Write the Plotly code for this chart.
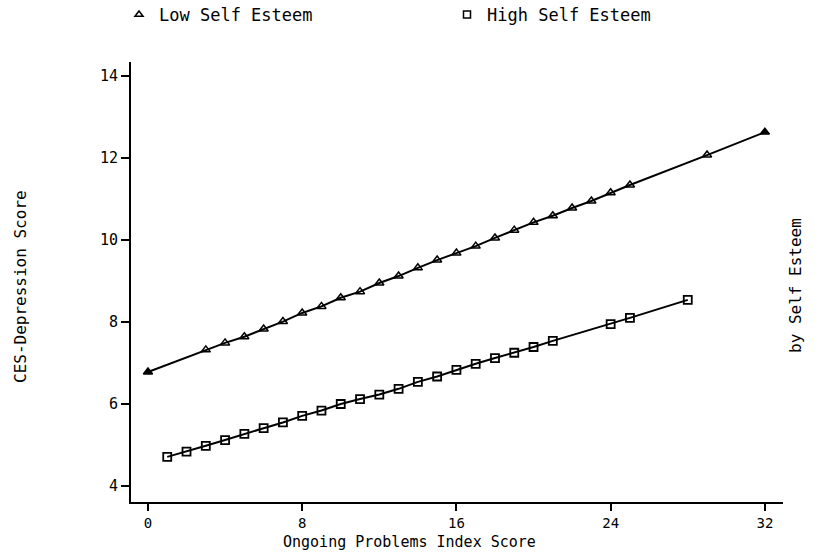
import plotly.graph_objects as go

# Data
low_x = [0, 3, 4, 5, 6, 7, 8, 9, 10, 11, 12, 13, 14, 15, 16, 17, 18, 19, 20, 21, 22, 23, 24, 25, 29, 32]
low_y = [6.78, 7.32, 7.49, 7.64, 7.83, 8.01, 8.22, 8.38, 8.59, 8.74, 8.95, 9.12, 9.32, 9.51, 9.68, 9.85,
         10.05, 10.24, 10.43, 10.59, 10.78, 10.95, 11.15, 11.34, 12.07, 12.63]

high_x = [1, 2, 3, 4, 5, 6, 7, 8, 9, 10, 11, 12, 13, 14, 15, 16, 17, 18, 19, 20, 21, 24, 25, 28]
high_y = [4.71, 4.84, 4.98, 5.12, 5.27, 5.41, 5.55, 5.71, 5.84, 6.0, 6.12, 6.23, 6.37, 6.54, 6.67, 6.83,
          6.98, 7.12, 7.25, 7.39, 7.54, 7.95, 8.1, 8.54]

x_ticks = [0, 8, 16, 24, 32]
y_ticks = [4, 6, 8, 10, 12, 14]

FONT = "DejaVu Sans Mono"
L, R, T, B = 131, 32, 62, 50
W, H = 815, 552
PW, PH = W - L - R, H - T - B

low_symbols = ["triangle-up" if (i == 0 or i == len(low_x) - 1) else "triangle-up-open" for i in range(len(low_x))]

fig = go.Figure()
fig.add_trace(go.Scatter(
    x=low_x, y=low_y, mode="lines+markers", name="Low Self Esteem", showlegend=False,
    line=dict(color="black", width=2),
    marker=dict(symbol=low_symbols, size=8, color="black", line=dict(color="black", width=1.5)),
))
fig.add_trace(go.Scatter(
    x=high_x, y=high_y, mode="lines+markers", name="High Self Esteem", showlegend=False,
    line=dict(color="black", width=2),
    marker=dict(symbol="square-open", size=8, color="black", line=dict(color="black", width=1.8)),
))
# legend-only entries (marker only, as in the reference)
fig.add_trace(go.Scatter(
    x=[None], y=[None], mode="markers", name="Low Self Esteem",
    marker=dict(symbol="triangle-up-open", size=7, color="black", line=dict(color="black", width=1.5)),
))
fig.add_trace(go.Scatter(
    x=[None], y=[None], mode="markers", name="High Self Esteem",
    marker=dict(symbol="square-open", size=7, color="black", line=dict(color="black", width=1.5)),
))

fig.update_layout(
    width=W, height=H,
    margin=dict(l=L, r=R, t=T, b=B, autoexpand=False),
    paper_bgcolor="white", plot_bgcolor="white",
    font=dict(family=FONT, color="black", size=15),
    showlegend=True,
    legend=dict(
        orientation="h", xref="container", yref="container",
        x=119 / W, y=1 - 15 / H, xanchor="left", yanchor="middle",
        entrywidth=283, entrywidthmode="pixels",
        font=dict(family=FONT, size=17, color="black"),
        bgcolor="rgba(0,0,0,0)",
    ),
    xaxis=dict(
        range=[-0.88, 32.94], tickvals=x_ticks, ticktext=[str(v) for v in x_ticks],
        showgrid=False, zeroline=False, showline=True, linecolor="black", linewidth=2,
        ticks="outside", ticklen=7, tickwidth=1.5, tickcolor="black", automargin=False,
        tickfont=dict(family=FONT, size=14, color="black"),
    ),
    yaxis=dict(
        range=[3.61, 14.34], tickvals=y_ticks, ticktext=[str(v) for v in y_ticks],
        showgrid=False, zeroline=False, showline=True, linecolor="black", linewidth=2,
        ticks="outside", ticklen=8, tickwidth=1.5, tickcolor="black", automargin=False,
        tickfont=dict(family=FONT, size=15, color="black"),
    ),
    annotations=[
        dict(text="Ongoing Problems Index Score", xref="paper", yref="paper",
             x=(409 - L) / PW, y=-(542 - (T + PH)) / PH, xanchor="center", yanchor="middle",
             showarrow=False, font=dict(family=FONT, size=15, color="black")),
        dict(text="CES-Depression Score", xref="paper", yref="paper",
             x=(20 - L) / PW, y=(T + PH - 287) / PH, xanchor="center", yanchor="middle",
             textangle=-90, showarrow=False, font=dict(family=FONT, size=16, color="black")),
        dict(text="by Self Esteem", xref="paper", yref="paper",
             x=(795 - L) / PW, y=(T + PH - 285) / PH, xanchor="center", yanchor="middle",
             textangle=-90, showarrow=False, font=dict(family=FONT, size=16, color="black")),
    ],
)

fig.write_html("out.html", config={"displayModeBar": False},
               post_script="document.body.style.margin='0px';document.body.style.overflow='hidden';")
